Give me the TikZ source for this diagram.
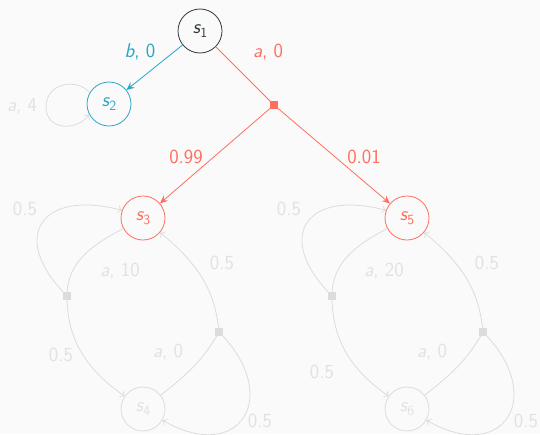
\documentclass[tikz,border=0pt]{standalone}
\usepackage{fontspec}
\usetikzlibrary{arrows.meta}
\definecolor{bg}{HTML}{FAFAFA}
\definecolor{dk}{HTML}{2E3A3D}
\definecolor{rd}{HTML}{FF6F5E}
\definecolor{bl}{HTML}{2BA6C6}
\definecolor{gr}{HTML}{DCDCDC}
\definecolor{gt}{HTML}{E2E2E2}
\newcommand\sst[1]{{\itshape s}\kern0.3pt\raisebox{-0.45ex}{\fontsize{14}{14}\selectfont #1}}
\begin{document}
\begin{tikzpicture}[x=1pt,y=-1pt,
  font=\sffamily\fontsize{20}{22}\selectfont,
  st/.style={circle,draw,line width=0.8pt,minimum size=44pt,inner sep=0pt},
  sq/.style={rectangle,fill,minimum size=8pt,inner sep=0pt},
  lbl/.style={inner sep=0pt},
  carr/.style={line width=0.8pt,-{Stealth[length=8pt,width=7pt,inset=3pt]}},
  garr/.style={gr,line width=0.8pt,-{To[length=4pt,width=8pt]}},
  gline/.style={gr,line width=0.8pt}]
\fill[bg] (0,0) rectangle (540,434);
\useasboundingbox (0,0) rectangle (540,434);
% states
\node[st,dk,text=dk] (s1) at (200,31) {\sst{1}};
\node[st,bl,text=bl] (s2) at (109,104) {\sst{2}};
\node[st,rd,text=rd] (s3) at (143,218) {\sst{3}};
\node[st,rd,text=rd] (s5) at (407,218) {\sst{5}};
\node[st,gr,text=gt] (s4) at (143,409) {\sst{4}};
\node[st,gr,text=gt] (s6) at (407,409) {\sst{6}};
% action squares
\node[sq,rd] (r) at (274,105) {};
\node[sq,gr] (g1) at (67,296) {};
\node[sq,gr] (g2) at (219,332) {};
\node[sq,gr] (g3) at (332,296) {};
\node[sq,gr] (g4) at (483,332) {};
% top edges
\draw[carr,bl] (s1) -- (s2);
\draw[rd,line width=0.8pt] (s1) -- (r.center);
\draw[carr,rd] (r.center) -- (s3);
\draw[carr,rd] (r.center) -- (s5);
\node[lbl,text=bl] (lb) at (140,52) {\textit{b}, 0};
\node[lbl,text=rd] (la) at (268,52) {\textit{a}, 0};
\node[lbl,text=rd] (l99) at (186,157) {0.99};
\node[lbl,text=rd] (l01) at (364,157) {0.01};
% s2 loop
\draw[garr] (s2.150) .. controls (78,78) and (46,82) .. (46,107) .. controls (46,130) and (76,132) .. (s2.208);
\node[lbl,text=gt] (la4) at (22,106) {\textit{a}, 4};
% left group
\draw[gline] (s3.208) to[out=208,in=90] (g1.center);
\draw[garr] (g1.center) to[out=135,in=165,looseness=2.1] (s3.160);
\draw[garr] (g1.center) to[out=-90,in=145] (s4.145);
\draw[gline] (s4.38) to[out=38,in=-120] (g2.center);
\draw[garr] (g2.center) to[out=95,in=-40] (s3.-40);
\draw[garr] (g2.center) to[out=-45,in=-30,looseness=2.2] (s4.-30);
\node[lbl,text=gt] (c1) at (25,209) {0.5};
\node[lbl,text=gt] (c2) at (120,271) {\textit{a}, 10};
\node[lbl,text=gt] (c3) at (222,263) {0.5};
\node[lbl,text=gt] (c4) at (61,355) {0.5};
\node[lbl,text=gt] (c5) at (168,352) {\textit{a}, 0};
\node[lbl,text=gt] (c6) at (260,421) {0.5};
% right group
\draw[gline] (s5.208) to[out=208,in=90] (g3.center);
\draw[garr] (g3.center) to[out=135,in=165,looseness=2.1] (s5.160);
\draw[garr] (g3.center) to[out=-90,in=145] (s6.145);
\draw[gline] (s6.38) to[out=38,in=-120] (g4.center);
\draw[garr] (g4.center) to[out=95,in=-40] (s5.-40);
\draw[garr] (g4.center) to[out=-45,in=-30,looseness=2.2] (s6.-30);
\node[lbl,text=gt] (d1) at (289,209) {0.5};
\node[lbl,text=gt] (d2) at (384,271) {\textit{a}, 20};
\node[lbl,text=gt] (d3) at (487,263) {0.5};
\node[lbl,text=gt] (d4) at (322,372) {0.5};
\node[lbl,text=gt] (d5) at (432,352) {\textit{a}, 0};
\node[lbl,text=gt] (d6) at (526,421) {0.5};
\end{tikzpicture}
\end{document}
